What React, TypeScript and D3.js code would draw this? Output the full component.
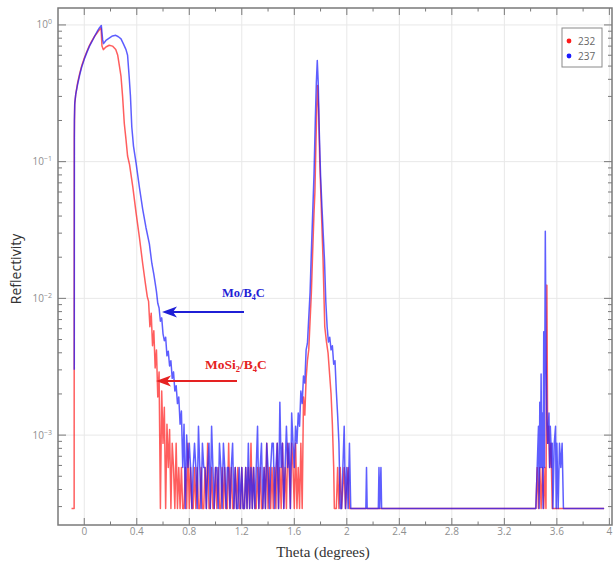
import React from "react";
import * as d3 from "d3";

// reflectivity curves (theta in degrees)
const red232Curve: [number, number][] = [
  [-0.097, 2.9e-4], [-0.077, 2.9e-4], [-0.076, 0.15], [-0.073, 0.26], [-0.065, 0.31], [-0.05, 0.38],
  [-0.035, 0.44], [-0.02, 0.5], [0, 0.57], [0.02, 0.64], [0.04, 0.71], [0.06, 0.77], [0.08, 0.83],
  [0.1, 0.88], [0.115, 0.92], [0.128, 0.95], [0.135, 0.7], [0.145, 0.66], [0.165, 0.69], [0.19, 0.71],
  [0.215, 0.7], [0.24, 0.66], [0.255, 0.6], [0.268, 0.5], [0.28, 0.42], [0.292, 0.3], [0.305, 0.19],
  [0.318, 0.145], [0.33, 0.11], [0.345, 0.095], [0.37, 0.065], [0.395, 0.042], [0.42, 0.028],
  [0.445, 0.018], [0.465, 0.013], [0.48, 0.0103],
];
// noisy part, one value every 0.01 deg from 0.49
const red232NoiseStart = 0.49;
const red232Noise = [
  0.0095, 0.0062, 0.0078, 0.0045, 0.0058, 0.0031, 0.0042, 0.0019, 0.0029, 2.9e-4,
  0.0021, 8.7e-4, 0.0016, 2.9e-4, 0.0012, 5.8e-4, 0.0011, 2.9e-4, 8.7e-4, 5.8e-4,
  2.9e-4, 8.7e-4, 2.9e-4, 5.8e-4, 2.9e-4, 5.8e-4, 2.9e-4, 2.9e-4, 5.8e-4, 2.9e-4,
  8.7e-4, 2.9e-4, 5.8e-4, 2.9e-4, 2.9e-4, 5.8e-4, 2.9e-4, 5.8e-4, 2.9e-4, 2.9e-4,
  5.8e-4, 2.9e-4, 2.9e-4, 5.8e-4, 2.9e-4, 8.7e-4, 2.9e-4, 2.9e-4, 5.8e-4, 2.9e-4,
  2.9e-4, 5.8e-4, 2.9e-4, 5.8e-4, 2.9e-4, 2.9e-4, 5.8e-4, 2.9e-4, 5.8e-4, 2.9e-4,
  2.9e-4, 8.7e-4, 2.9e-4, 5.8e-4, 2.9e-4, 2.9e-4, 5.8e-4, 2.9e-4, 5.8e-4, 2.9e-4,
  2.9e-4, 5.8e-4, 2.9e-4, 2.9e-4, 5.8e-4, 2.9e-4, 5.8e-4, 2.9e-4, 8.7e-4, 2.9e-4,
  5.8e-4, 2.9e-4, 2.9e-4, 5.8e-4, 2.9e-4, 5.8e-4, 2.9e-4, 2.9e-4, 5.8e-4, 2.9e-4,
  8.7e-4, 2.9e-4, 5.8e-4, 2.9e-4, 5.8e-4, 2.9e-4, 5.8e-4, 2.9e-4, 8.7e-4, 2.9e-4,
  5.8e-4, 2.9e-4, 8.7e-4, 2.9e-4, 5.8e-4, 2.9e-4, 8.7e-4, 5.8e-4, 2.9e-4, 8.7e-4,
  5.8e-4, 2.9e-4, 8.7e-4, 2.9e-4, 5.8e-4, 2.9e-4,
];
const red232Tail: [number, number][] = [
  [1.65, 8.7e-4], [1.66, 2.9e-4], [1.67, 0.0019], [1.68, 0.0014], [1.69, 0.0026], [1.7, 0.0035],
  [1.71, 0.0042], [1.72, 0.0068], [1.73, 0.011], [1.74, 0.022], [1.75, 0.042], [1.757, 0.06],
  [1.765, 0.14], [1.772, 0.26], [1.778, 0.36], [1.785, 0.24], [1.794, 0.1], [1.805, 0.048],
  [1.819, 0.019], [1.832, 0.0062], [1.845, 0.0048], [1.857, 0.004], [1.87, 0.0027], [1.88, 0.002],
  [1.89, 0.0012], [1.9, 5.8e-4], [1.905, 2.9e-4], [1.92, 2.9e-4], [1.93, 5.8e-4], [1.94, 2.9e-4],
  [1.95, 5.8e-4], [1.96, 2.9e-4], [1.98, 5.8e-4], [1.99, 2.9e-4], [2.01, 5.8e-4], [2.02, 2.9e-4],
  [3.44, 2.9e-4], [3.45, 5.8e-4], [3.46, 2.9e-4], [3.47, 5.8e-4], [3.48, 2.9e-4], [3.49, 5.8e-4],
  [3.5, 2.9e-4], [3.51, 5.8e-4], [3.517, 2.9e-4], [3.524, 0.0125], [3.53, 8.7e-4], [3.537, 1.16e-3],
  [3.545, 5.8e-4], [3.555, 8.7e-4], [3.565, 2.9e-4], [3.96, 2.9e-4],
];

const blue237Curve: [number, number][] = [
  [-0.076, 0.003], [-0.075, 0.2], [-0.072, 0.27], [-0.065, 0.31], [-0.05, 0.37], [-0.035, 0.43],
  [-0.02, 0.49], [0, 0.56], [0.02, 0.63], [0.04, 0.7], [0.06, 0.76], [0.08, 0.83], [0.1, 0.9],
  [0.115, 0.95], [0.13, 0.99], [0.14, 0.78], [0.147, 0.73], [0.165, 0.77], [0.19, 0.8], [0.215, 0.83],
  [0.24, 0.84], [0.26, 0.82], [0.28, 0.79], [0.3, 0.72], [0.318, 0.66], [0.33, 0.6], [0.342, 0.42],
  [0.352, 0.3], [0.362, 0.18], [0.375, 0.13], [0.395, 0.097], [0.42, 0.065], [0.445, 0.045],
  [0.47, 0.033], [0.496, 0.025], [0.515, 0.018], [0.53, 0.015], [0.54, 0.013],
];
const blue237NoiseStart = 0.55;
const blue237Noise = [
  0.0112, 0.0092, 0.0085, 0.0068, 0.0072, 0.0055, 0.0049, 0.0052, 0.0038, 0.0041,
  0.0032, 0.0035, 0.0026, 0.0029, 0.0021, 0.0023, 0.0017, 0.0019, 0.0012, 0.0015,
  5.8e-4, 0.0012, 2.9e-4, 0.001, 5.8e-4, 8.7e-4, 5.8e-4, 2.9e-4, 5.8e-4, 8.7e-4,
  5.8e-4, 2.9e-4, 1.16e-3, 5.8e-4, 2.9e-4, 8.7e-4, 5.8e-4, 5.8e-4, 2.9e-4, 5.8e-4,
  8.7e-4, 2.9e-4, 1.16e-3, 5.8e-4, 2.9e-4, 5.8e-4, 5.8e-4, 2.9e-4, 8.7e-4, 5.8e-4,
  2.9e-4, 8.7e-4, 5.8e-4, 2.9e-4, 5.8e-4, 5.8e-4, 2.9e-4, 5.8e-4, 8.7e-4, 2.9e-4,
  5.8e-4, 2.9e-4, 2.9e-4, 5.8e-4, 2.9e-4, 5.8e-4, 2.9e-4, 2.9e-4, 5.8e-4, 2.9e-4,
  8.7e-4, 2.9e-4, 5.8e-4, 2.9e-4, 5.8e-4, 2.9e-4, 5.8e-4, 1.16e-3, 2.9e-4, 5.8e-4,
  8.7e-4, 2.9e-4, 5.8e-4, 2.9e-4, 8.7e-4, 5.8e-4, 2.9e-4, 5.8e-4, 8.7e-4, 8.7e-4,
  2.9e-4, 5.8e-4, 8.7e-4, 2.9e-4, 1.74e-3, 5.8e-4, 8.7e-4, 2.9e-4, 5.8e-4, 1.16e-3,
  5.8e-4, 8.7e-4, 2.9e-4, 1.45e-3, 8.7e-4, 5.8e-4, 1.16e-3, 8.7e-4, 1.45e-3, 1.16e-3,
];
const blue237Tail: [number, number][] = [
  [1.65, 0.0021], [1.66, 0.0017], [1.67, 0.0027], [1.68, 0.0024], [1.69, 0.0042], [1.7, 0.0047],
  [1.71, 0.0072], [1.72, 0.011], [1.73, 0.022], [1.74, 0.042], [1.75, 0.08], [1.76, 0.2],
  [1.768, 0.38], [1.775, 0.55], [1.782, 0.38], [1.79, 0.17], [1.8, 0.08], [1.81, 0.048],
  [1.82, 0.03], [1.83, 0.019], [1.84, 0.0095], [1.85, 0.0062], [1.86, 0.0048], [1.87, 0.0052],
  [1.88, 0.0042], [1.89, 0.0045], [1.9, 0.0033], [1.91, 0.0035], [1.92, 0.0021], [1.93, 0.0014],
  [1.94, 8.7e-4], [1.95, 2.9e-4], [1.96, 2.9e-4], [1.97, 5.8e-4], [1.98, 1.16e-3], [1.99, 2.9e-4],
  [2.0, 5.8e-4], [2.01, 2.9e-4], [2.02, 8.7e-4], [2.03, 2.9e-4], [2.145, 2.9e-4], [2.15, 5.8e-4],
  [2.155, 2.9e-4], [2.24, 2.9e-4], [2.245, 5.8e-4], [2.25, 2.9e-4], [2.26, 5.8e-4], [2.265, 2.9e-4],
  [3.44, 2.9e-4], [3.45, 5.8e-4], [3.46, 1.16e-3], [3.465, 2.9e-4], [3.47, 1.74e-3], [3.475, 5.8e-4],
  [3.48, 0.0028], [3.485, 5.8e-4], [3.49, 1.45e-3], [3.495, 2.9e-4], [3.5, 0.0057], [3.505, 5.8e-4],
  [3.512, 0.031], [3.518, 0.0035], [3.525, 1.16e-3], [3.53, 8.7e-4], [3.535, 1.16e-3], [3.54, 1.45e-3],
  [3.545, 5.8e-4], [3.55, 1.16e-3], [3.555, 8.7e-4], [3.56, 5.8e-4], [3.565, 8.7e-4], [3.57, 2.9e-4],
  [3.58, 8.7e-4], [3.59, 1.16e-3], [3.595, 2.9e-4], [3.6, 8.7e-4], [3.61, 2.9e-4], [3.62, 8.7e-4],
  [3.63, 5.8e-4], [3.64, 8.7e-4], [3.65, 2.9e-4], [3.96, 2.9e-4],
];

const xTickValues = [0, 0.4, 0.8, 1.2, 1.6, 2, 2.4, 2.8, 3.2, 3.6, 4];
const yTickValues = [1e-3, 1e-2, 1e-1, 1];
const yTickExp = ["\u22123", "\u22122", "\u22121", "0"];
const legendNames = ["232", "237"];
const colors = ["#ff1a1a", "#1a1aff"];

const NOISE_STEP = 0.01;
const withNoise = (curve, start, noise, tail) => [
  ...curve,
  ...noise.map((v, i) => [start + i * NOISE_STEP, v]),
  ...tail,
];

export default function App() {
  const width = 616;
  const height = 564;
  const left = 58, right = 612, top = 8, bottom = 525;

  const x = d3.scaleLinear().domain([-0.2, 4.02]).range([left, right]);
  const y = d3.scaleLog().domain([2.2e-4, 1.33]).range([bottom, top]);

  const series = [
    withNoise(red232Curve, red232NoiseStart, red232Noise, red232Tail),
    withNoise(blue237Curve, blue237NoiseStart, blue237Noise, blue237Tail),
  ];
  const line = d3.line<any>().x((d) => x(d[0])).y((d) => y(d[1]));

  const minorX = d3.range(-0.2, 4.02, 0.4).filter((v) => v > -0.19);
  const minorY: number[] = [];
  for (let e = -4; e <= 0; e++) {
    for (let k = 2; k <= 9; k++) {
      const v = k * Math.pow(10, e);
      if (v > 2.2e-4 && v < 1.33) minorY.push(v);
    }
  }

  const tickColor = "#7a7a7a";
  const labelColor = "#8f8f8f";

  return (
    <svg width={width} height={height} style={{ position: "absolute", left: 0, top: 0, background: "#fff" }}>
      <defs>
        <clipPath id="plot">
          <rect x={left} y={top} width={right - left} height={bottom - top} />
        </clipPath>
      </defs>

      {/* grid */}
      {xTickValues.map((t) => (
        <line key={"gx" + t} x1={x(t)} x2={x(t)} y1={top} y2={bottom} stroke="#e8e8e8" strokeWidth={1} />
      ))}
      {yTickValues.map((t) => (
        <line key={"gy" + t} x1={left} x2={right} y1={y(t)} y2={y(t)} stroke="#e8e8e8" strokeWidth={1} />
      ))}

      {/* data */}
      <g clipPath="url(#plot)">
        {series.map((s, i) => (
          <path key={i} d={line(s) || ""} fill="none" stroke={colors[i]} strokeWidth={1.5} strokeOpacity={0.7} strokeLinejoin="round" />
        ))}
      </g>

      {/* frame */}
      <rect x={left} y={top} width={right - left} height={bottom - top} fill="none" stroke={tickColor} strokeWidth={1.5} />

      {/* x ticks, pointing inward on both sides */}
      {xTickValues.map((t) => (
        <g key={"tx" + t} stroke={tickColor} strokeWidth={1}>
          <line x1={x(t)} x2={x(t)} y1={bottom} y2={bottom - 7} />
          <line x1={x(t)} x2={x(t)} y1={top} y2={top + 7} />
        </g>
      ))}
      {minorX.map((t) => (
        <g key={"mx" + t} stroke={tickColor} strokeWidth={1}>
          <line x1={x(t)} x2={x(t)} y1={bottom} y2={bottom - 3.5} />
          <line x1={x(t)} x2={x(t)} y1={top} y2={top + 3.5} />
        </g>
      ))}
      {xTickValues.map((t) => (
        <text key={"lx" + t} x={x(t)} y={535} textAnchor="middle" fontFamily="Open Sans" fontSize={10} fill={labelColor}>
          {t}
        </text>
      ))}

      {/* y ticks */}
      {yTickValues.map((t) => (
        <g key={"ty" + t} stroke={tickColor} strokeWidth={1}>
          <line x1={left} x2={left + 8} y1={y(t)} y2={y(t)} />
          <line x1={right} x2={right - 8} y1={y(t)} y2={y(t)} />
        </g>
      ))}
      {minorY.map((t) => (
        <g key={"my" + t} stroke={tickColor} strokeWidth={1}>
          <line x1={left} x2={left + 4} y1={y(t)} y2={y(t)} />
          <line x1={right} x2={right - 4} y1={y(t)} y2={y(t)} />
        </g>
      ))}
      {yTickValues.map((t, i) => (
        <text key={"ly" + t} x={52} y={y(t) + 3.5} textAnchor="end" fontFamily="Open Sans" fontSize={10} fill={labelColor}>
          10<tspan dy={-4} fontSize={7}>{yTickExp[i]}</tspan>
        </text>
      ))}

      {/* axis titles */}
      <text x={323} y={557} textAnchor="middle" fontFamily="Liberation Serif" fontSize={15} fill="#333">
        Theta (degrees)
      </text>
      <text transform="translate(21,269) rotate(-90)" textAnchor="middle" fontFamily="Open Sans" fontSize={14} fill="#333">
        Reflectivity
      </text>

      {/* legend */}
      <rect x={562} y={28} width={40} height={39} fill="#fff" stroke="#8a8a8a" strokeWidth={1} />
      {legendNames.map((n, i) => (
        <g key={n}>
          <circle cx={569} cy={41 + i * 15} r={2.4} fill={colors[i]} />
          <text x={578} y={44.5 + i * 15} fontFamily="Open Sans" fontSize={10} fill="#666">
            {n}
          </text>
        </g>
      ))}

      {/* annotations */}
      <text x={222} y={297} fontFamily="Liberation Serif" fontWeight="bold" fontSize={12.5} fill="#1f1fd6">
        Mo/B<tspan dy={3} fontSize={8}>4</tspan><tspan dy={-3}>C</tspan>
      </text>
      <line x1={244} x2={170} y1={312} y2={312} stroke="#1f1fd6" strokeWidth={2} />
      <polygon points="162,312 177,306.5 173,312 177,317.5" fill="#1f1fd6" />

      <text x={205} y={369} fontFamily="Liberation Serif" fontWeight="bold" fontSize={13.5} fill="#e52222">
        MoSi<tspan dy={3} fontSize={8.5}>2</tspan><tspan dy={-3}>/B</tspan><tspan dy={3} fontSize={8.5}>4</tspan><tspan dy={-3}>C</tspan>
      </text>
      <line x1={237} x2={164} y1={381} y2={381} stroke="#e52222" strokeWidth={2} />
      <polygon points="156,381 171,375.5 167,381 171,386.5" fill="#e52222" />
    </svg>
  );
}
